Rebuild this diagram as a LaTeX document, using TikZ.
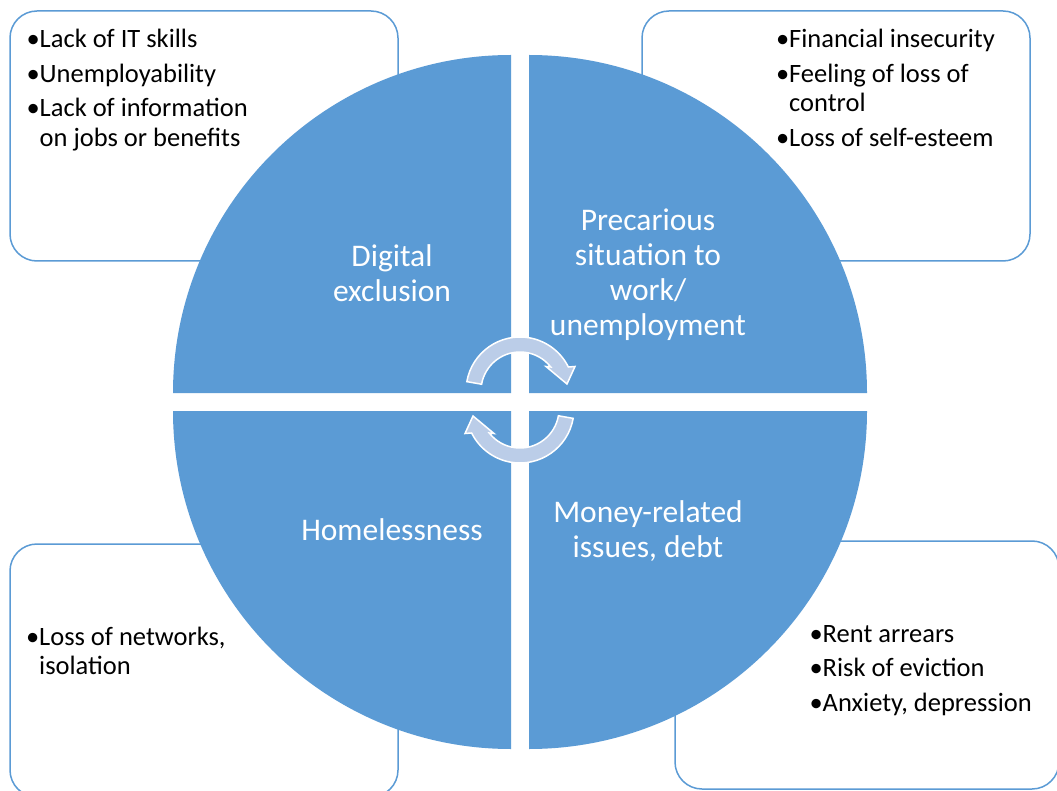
\documentclass[tikz,border=0pt]{standalone}
\usepackage{fontspec}
\setmainfont{Carlito}
\definecolor{qblue}{RGB}{91,155,213}
\definecolor{arrowblue}{RGB}{187,205,232}
\newcommand\bul{\makebox[13pt][c]{•}}
\begin{document}
\begin{tikzpicture}[x=1pt,y=-1pt,
  box/.style={draw=qblue, line width=1.5pt, fill=white, rounded corners=27pt},
  quad/.style={fill=qblue},
  cyc/.style={fill=arrowblue, draw=white, line width=1.5pt, line join=miter},
  boxtext/.style={anchor=base west, inner sep=0pt, font={\fontsize{26.5}{29.5}\selectfont}, text=black},
  quadtext/.style={anchor=base, inner sep=0pt, font={\fontsize{31.5}{35}\selectfont}, text=white}]
\useasboundingbox (0,0) rectangle (1057,791);
\clip (0,0) rectangle (1057,791);
\fill[white] (0,0) rectangle (1057,791);
% outer boxes
\draw[box] (10,11) rectangle (398,261);
\draw[box] (642,11) rectangle (1030,261);
\draw[box] (10,544) rectangle (398,797);
\draw[box] (675,541) rectangle (1059,789);
% quadrants
\fill[quad] (511,393) -- (173,393) arc[start angle=180, end angle=270, radius=338] -- cycle;
\fill[quad] (529,393) -- (867,393) arc[start angle=0, end angle=-90, radius=338] -- cycle;
\fill[quad] (511,411) -- (173,411) arc[start angle=180, end angle=90, radius=338] -- cycle;
\fill[quad] (529,411) -- (867,411) arc[start angle=0, end angle=90, radius=338] -- cycle;
% cycle arrows
\begin{scope}[shift={(520,391)}]
  \filldraw[cyc] (190:54) arc[start angle=190, end angle=333.6, radius=54]
    -- (55,-24.5) -- (47,-7) -- (26,-24.5) -- (322:39)
    arc[start angle=322, end angle=190, radius=39] -- cycle;
\end{scope}
\begin{scope}[shift={(520,409)}, rotate=180]
  \filldraw[cyc] (190:54) arc[start angle=190, end angle=333.6, radius=54]
    -- (55,-24.5) -- (47,-7) -- (26,-24.5) -- (322:39)
    arc[start angle=322, end angle=190, radius=39] -- cycle;
\end{scope}
% quadrant labels
\node[quadtext] (dig) at (392,267) {\begin{tabular}[t]{@{}c@{}}Digital\\exclusion\end{tabular}};
\node[quadtext] (pre) at (648,231) {\begin{tabular}[t]{@{}c@{}}Precarious\\situation to\\work/\\unemployment\end{tabular}};
\node[quadtext] (hom) at (392,540) {Homelessness};
\node[quadtext] (mon) at (648,522) {\begin{tabular}[t]{@{}c@{}}Money-related\\issues, debt\end{tabular}};
% box texts
\node[boxtext] (tl) at (26.5,48) {\begin{tabular}[t]{@{}l@{}}\bul Lack of IT skills\\[5pt]\bul Unemployability\\[5pt]\bul Lack of information\\\hspace*{13pt}on jobs or benefits\end{tabular}};
\node[boxtext] (tr) at (776,48) {\begin{tabular}[t]{@{}l@{}}\bul Financial insecurity\\[5pt]\bul Feeling of loss of\\\hspace*{13pt}control\\[5pt]\bul Loss of self-esteem\end{tabular}};
\node[boxtext] (bl) at (26,645) {\begin{tabular}[t]{@{}l@{}}\bul Loss of networks,\\\hspace*{13pt}isolation\end{tabular}};
\node[boxtext] (br) at (809.5,642) {\begin{tabular}[t]{@{}l@{}}\bul Rent arrears\\[5pt]\bul Risk of eviction\\[5pt]\bul Anxiety, depression\end{tabular}};
\end{tikzpicture}
\end{document}
